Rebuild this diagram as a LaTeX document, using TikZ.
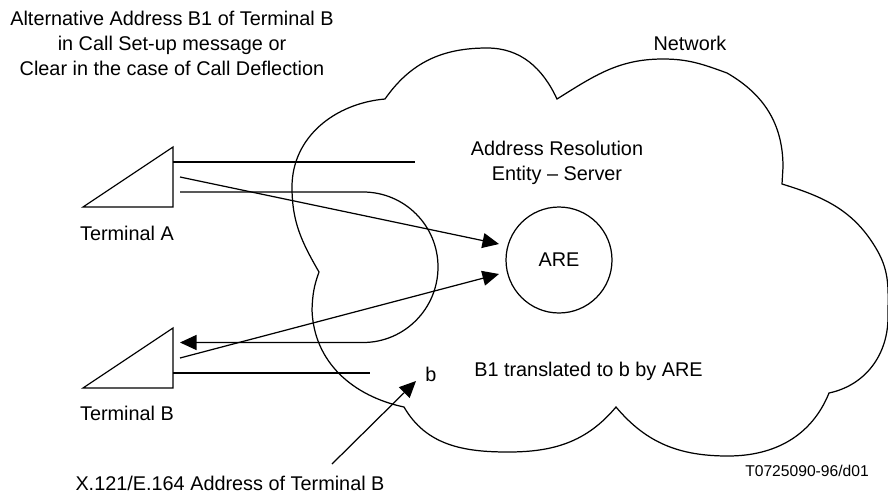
\documentclass[tikz,border=0pt]{standalone}
\usepackage{fontspec}
\setmainfont{Liberation Sans}
\usetikzlibrary{arrows.meta}
\tikzset{
	label/.style={inner sep=0pt, font=\fontsize{11.3pt}{14.2pt}\selectfont},
	line/.style={line width=0.7pt},
	arrow/.style={line width=0.7pt, -{Triangle[length=0.33cm, width=0.3cm]}}
}
\begin{document}
\begin{tikzpicture}[x=0.02cm, y=0.02cm]
	\useasboundingbox (0, 0) rectangle (888, -494);
	% cloud
	\draw[line] (385, -99) to[out=55, in=180] (487, -48) to[out=0, in=115] (557, -99)
		to[out=32, in=180] (663, -59) to[out=0, in=160] (727, -73) to[out=-30, in=90] (783, -167)
		-- (782, -184) to[out=-17, in=120] (877, -250) to[out=-60, in=90] (888, -317)
		to[out=-90, in=12] (829, -393) to[out=-112, in=0] (728, -456) to[out=180, in=-50] (616, -407)
		to[out=-130, in=0] (508, -452) to[out=180, in=-60] (404, -407) to[out=168, in=-88] (312, -310)
		to[out=88, in=-110] (319, -272) to[out=120, in=-90] (292, -187) to[out=90, in=185] (385, -99);
	% terminals
	\draw[line] (83, -207)--(173, -147)--(173, -207)--cycle;
	\draw[line] (83, -388)--(173, -328)--(173, -388)--cycle;
	\node(TERMA) at (127, -233)[label]{Terminal A};
	\node(TERMB) at (127, -413)[label]{Terminal B};
	\node(ARE) at (559, -260)[circle, draw, line, minimum size=2.12cm, inner sep=0pt, font=\fontsize{11.3pt}{14.2pt}\selectfont]{ARE};
	% free ends of the connectors
	\coordinate(A1) at (173, -162);
	\coordinate(A2) at (415, -162);
	\coordinate(A3) at (180, -177);
	\coordinate(A4) at (499, -244);
	\coordinate(A5) at (180, -192);
	\coordinate(B1) at (180, -358);
	\coordinate(B2) at (499, -274);
	\coordinate(B3) at (180, -342.5);
	\coordinate(B4) at (173, -373);
	\coordinate(B5) at (370, -373);
	\coordinate(X1) at (332, -464);
	\coordinate(X2) at (416, -381);
	\draw[line] (A1)--(A2);
	\draw[line] (B4)--(B5);
	\draw[arrow] (A3)--(A4);
	\draw[arrow] (B1)--(B2);
	\draw[arrow] (A5)--(363, -192) to[out=0, in=90] (438, -267) to[out=-90, in=0] (363, -342.5)--(B3);
	\draw[arrow] (X1)--(X2);
	% texts
	\node(TITLE) at (172, -43)[label, align=center]{Alternative Address B1 of Terminal B\\in Call Set-up message or\\Clear in the case of Call Deflection};
	\node(NET) at (690, -43)[label]{Network};
	\node(ENTITY) at (557, -162.5)[label, align=center]{Address Resolution\\Entity -- Server};
	\node(BSMALL) at (431, -374)[label]{b};
	\node(TRANS) at (588.5, -371)[label]{B1 translated to b by ARE};
	\node(CODE) at (807, -471)[label, font=\fontsize{8.9pt}{10pt}\selectfont]{T0725090-96/d01};
	\node(X121) at (230, -483)[label]{X.121/E.164 Address of Terminal B};
\end{tikzpicture}
\end{document}
